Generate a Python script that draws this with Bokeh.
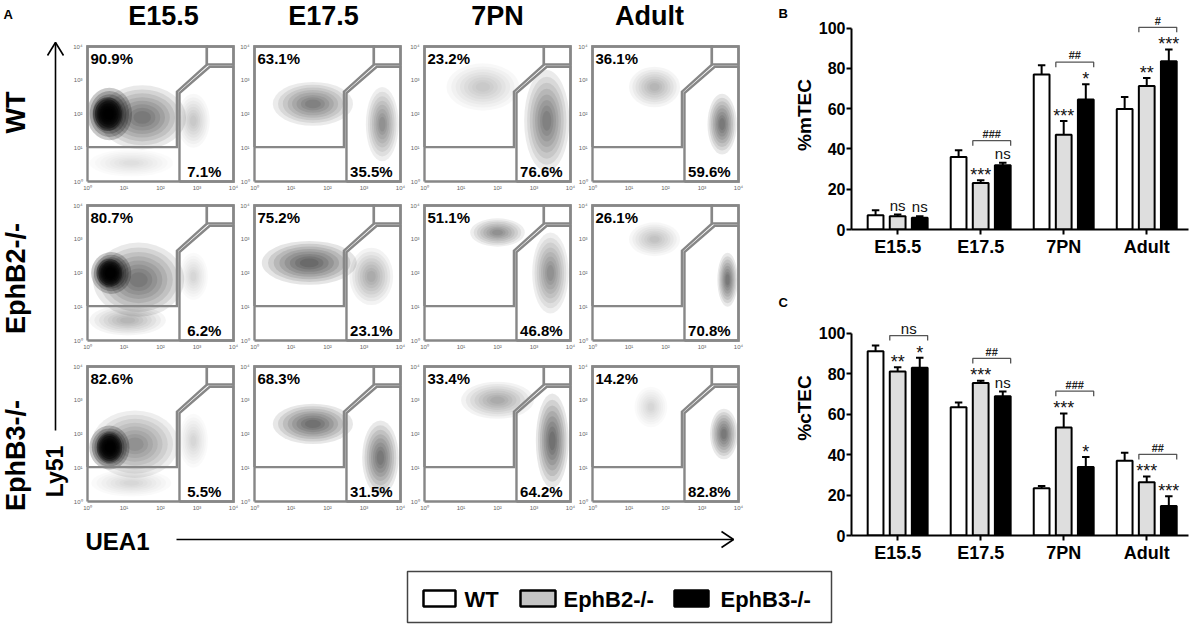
import math
from bokeh.plotting import figure
from bokeh.layouts import row, column
from bokeh.models import Range1d, FixedTicker
from bokeh.embed import file_html
from bokeh.resources import INLINE
from bokeh.core.properties import value

FONT = "Liberation Sans"

# ------------------------------------------------------------------ data
stages = ["E15.5", "E17.5", "7PN", "Adult"]
genotypes = ["WT", "EphB2-/-", "EphB3-/-"]

# panel A: gate percentages (rows = genotypes, cols = stages)
ly51_pct = [[90.9, 63.1, 23.2, 36.1],
            [80.7, 75.2, 51.1, 26.1],
            [82.6, 68.3, 33.4, 14.2]]
uea1_pct = [[7.1, 35.5, 76.6, 59.6],
            [6.2, 23.1, 46.8, 70.8],
            [5.5, 31.5, 64.2, 82.8]]
decades = [0, 1, 2, 3, 4]
decade_labels = ["10\u2070", "10\u00b9", "10\u00b2", "10\u00b3", "10\u2074"]

# panel A: event clouds
# (centre in log10 UEA1 / log10 Ly51, half-spread in decades, relative density)
cloud_row = [0] * 11 + [1] * 11 + [2] * 11
cloud_col = [0, 0, 0, 0, 1, 1, 2, 2, 3, 3, 0,
             0, 0, 0, 0, 1, 1, 2, 2, 3, 3, 0,
             0, 0, 0, 0, 1, 1, 2, 2, 3, 3, 0]
cloud_x = [0.6, 0.55, 1.5, 2.9, 1.6, 3.5, 1.6, 3.35, 1.7, 3.55, 1.2,
           0.65, 0.6, 1.4, 2.9, 1.5, 3.2, 2.0, 3.45, 1.7, 3.7, 1.1,
           0.6, 0.6, 1.3, 2.9, 1.6, 3.45, 2.0, 3.5, 1.6, 3.6, 1.2]
cloud_y = [2.0, 2.0, 1.9, 1.8, 2.3, 1.7, 2.8, 1.8, 2.8, 1.7, 0.55,
           2.0, 2.0, 1.8, 1.9, 2.3, 1.9, 3.2, 2.0, 3.0, 1.8, 0.6,
           1.6, 1.6, 1.7, 1.8, 2.3, 1.3, 3.0, 1.8, 2.8, 2.0, 0.55]
cloud_rx = [0.62, 0.4, 1.2, 0.45, 1.1, 0.45, 1.0, 0.62, 0.7, 0.4, 1.15,
            0.55, 0.35, 1.25, 0.4, 1.3, 0.6, 0.75, 0.5, 0.7, 0.28, 1.05,
            0.55, 0.35, 1.2, 0.4, 1.1, 0.5, 1.0, 0.45, 0.45, 0.38, 1.1]
cloud_ry = [0.78, 0.5, 0.95, 0.8, 0.65, 1.1, 0.7, 1.5, 0.6, 0.9, 0.4,
            0.62, 0.42, 1.1, 0.7, 0.65, 0.85, 0.42, 1.2, 0.5, 0.8, 0.45,
            0.65, 0.45, 1.0, 0.8, 0.6, 1.1, 0.55, 1.4, 0.6, 0.75, 0.4]
cloud_density = [2.5, 4.0, 1.0, 0.3, 0.9, 0.8, 0.3, 0.9, 0.45, 1.0, 0.2,
                 2.5, 4.0, 1.0, 0.25, 1.2, 0.55, 0.8, 0.8, 0.35, 1.0, 0.45,
                 2.5, 4.0, 0.8, 0.25, 1.1, 1.0, 0.55, 1.1, 0.25, 1.0, 0.25]

# panels B / C: mean and SEM (%)
mtec_wt = [7.1, 36.0, 77.0, 59.8]
mtec_wt_err = [2.5, 3.3, 4.5, 6.0]
mtec_b2 = [6.6, 23.1, 47.1, 71.2]
mtec_b2_err = [0.8, 1.4, 6.8, 4.0]
mtec_b3 = [5.8, 31.9, 64.6, 83.5]
mtec_b3_err = [0.8, 1.2, 7.5, 5.9]
mtec_sig_b2 = ["ns", "***", "***", "**"]
mtec_sig_b3 = ["ns", "ns", "*", "***"]
mtec_hash = ["", "###", "##", "#"]

ctec_wt = [91.1, 63.4, 23.3, 36.9]
ctec_wt_err = [2.8, 2.3, 1.2, 4.0]
ctec_b2 = [81.0, 75.4, 53.4, 26.3]
ctec_b2_err = [2.1, 1.1, 6.9, 2.8]
ctec_b3 = [82.9, 68.8, 33.8, 14.6]
ctec_b3_err = [4.9, 2.3, 5.0, 4.8]
ctec_sig_b2 = ["**", "***", "***", "***"]
ctec_sig_b3 = ["*", "ns", "*", "***"]
ctec_hash = ["ns", "##", "###", "##"]

y_ticks = [0, 20, 40, 60, 80, 100]

# ------------------------------------------------------------------ panel A
A_W, A_H = 790, 565


def Y(ry):
    return A_H - ry


pa = figure(width=A_W, height=A_H, x_range=Range1d(0, A_W), y_range=Range1d(0, A_H),
            output_backend="svg", toolbar_location=None,
            x_axis_location=None, y_axis_location=None,
            min_border=0)
pa.grid.visible = False
pa.outline_line_color = None

COL_L = [87, 254, 424, 592]
ROW_T = [46, 205, 366]
PW, PH = 146, 135


def gx(c, v):
    return COL_L[c] + v / 4 * PW


def gy(r, v):
    return Y(ROW_T[r] + (4 - v) / 4 * PH)


# clouds (stacked translucent ellipses give a density falloff)
for scale in [1.0, 0.87, 0.75, 0.63, 0.52, 0.41, 0.3, 0.2]:
    ex, ey, ew, eh, ea = [], [], [], [], []
    for r, c, cx, cy, rx, ry, d in zip(cloud_row, cloud_col, cloud_x, cloud_y,
                                        cloud_rx, cloud_ry, cloud_density):
        ex.append(gx(c, cx))
        ey.append(gy(r, cy))
        ew.append(2 * rx * scale * PW / 4)
        eh.append(2 * ry * scale * PH / 4)
        ea.append(min(0.45, d * 0.085))
    pa.ellipse(x=ex, y=ey, width=ew, height=eh, fill_color="black",
               fill_alpha=ea, line_color=None)

gate_ly51 = [(0, 1.02), (2.45, 1.02), (2.45, 2.66), (3.27, 3.46), (3.27, 4), (0, 4)]
gate_uea1 = [(2.52, 0), (4, 0), (4, 3.40), (3.35, 3.40), (2.52, 2.62)]
gate_box = [(3.27, 3.47), (4, 3.47), (4, 4), (3.27, 4)]
frame_box = [(0, 0), (4, 0), (4, 4), (0, 4)]

gxs, gys = [], []
for r in range(3):
    for c in range(4):
        for poly in (frame_box, gate_ly51, gate_uea1, gate_box):
            pts = poly + [poly[0]]
            gxs.append([gx(c, a) for a, b in pts])
            gys.append([gy(r, b) for a, b in pts])
pa.multi_line(xs=gxs, ys=gys, line_color="#878787", line_width=2.4, line_join="miter")

# tick labels of the dot plots
tx, ty, tt = [], [], []
lx, ly, lt = [], [], []
for r in range(3):
    for c in range(4):
        for k, lab in zip(decades, decade_labels):
            tx.append(gx(c, k)); ty.append(Y(ROW_T[r] + PH + 6)); tt.append(lab)
            lx.append(COL_L[c] - 5); ly.append(gy(r, k)); lt.append(lab)
pa.text(x=tx, y=ty, text=tt, text_font=value(FONT), text_font_size="6px",
        text_color="#666666", text_align="center", text_baseline="middle")
pa.text(x=lx, y=ly, text=lt, text_font=value(FONT), text_font_size="6px",
        text_color="#666666", text_align="right", text_baseline="middle")

# percentages
ux, uy, ut, bx, by, bt = [], [], [], [], [], []
for r in range(3):
    for c in range(4):
        ux.append(COL_L[c] + 3); uy.append(Y(ROW_T[r] + 12)); ut.append(f"{ly51_pct[r][c]}%")
        bx.append(gx(c, 3.2)); by.append(Y(ROW_T[r] + PH - 10)); bt.append(f"{uea1_pct[r][c]}%")
pa.text(x=ux, y=uy, text=ut, text_font=value(FONT), text_font_size="15px",
        text_font_style="bold", text_align="left", text_baseline="middle")
pa.text(x=bx, y=by, text=bt, text_font=value(FONT), text_font_size="15px",
        text_font_style="bold", text_align="center", text_baseline="middle")

# column titles
title_cx = [163, 323, 497, 649]
pa.text(x=title_cx, y=[Y(15)] * 4, text=stages, text_font=value(FONT),
        text_font_size="27px", text_font_style="bold", text_align="center",
        text_baseline="middle")
# row titles (rotated)
row_cy = [112, 278, 455]
pa.text(x=[15] * 3, y=[Y(v) for v in row_cy], text=genotypes, text_font=value(FONT),
        text_font_size="27px", text_font_style="bold", text_align="center",
        text_baseline="middle", angle=math.pi / 2)

# panel letters (B and C sit at the left of the bar charts)
pa.text(x=[3, 778, 778], y=[Y(14), Y(12.5), Y(302)], text=["A", "B", "C"],
        text_font=value(FONT), text_font_size="13px", text_font_style="bold",
        text_align="left", text_baseline="middle")

# axis arrows
pa.multi_line(xs=[[55, 55], [47, 55, 63], [176, 733], [721, 733, 721]],
              ys=[[Y(42), Y(430)], [Y(55), Y(42), Y(55)], [Y(539), Y(539)],
                  [Y(531), Y(539), Y(547)]],
              line_color="black", line_width=1.6)
pa.text(x=[54], y=[Y(471)], text=["Ly51"], text_font=value(FONT), text_font_size="23px",
        text_font_style="bold", text_align="center", text_baseline="middle",
        angle=math.pi / 2)
pa.text(x=[117], y=[Y(541)], text=["UEA1"], text_font=value(FONT), text_font_size="24px",
        text_font_style="bold", text_align="center", text_baseline="middle")

# ------------------------------------------------------------------ panels B / C
OFFS = [-0.266, 0.0, 0.266]
FILLS = ["white", "#dedede", "black"]
BW = 0.19
X_START, X_END = -0.056, 4.003


def bar_panel(ylabel, wt, wt_e, b2, b2_e, b3, b3_e, sig2, sig3, hashes,
              height, y_end, bottom):
    p = figure(width=402, height=height, x_range=Range1d(X_START, X_END),
               y_range=Range1d(0, y_end), output_backend="svg", toolbar_location=None,
               min_border_left=55, min_border_right=4, min_border_top=0,
               min_border_bottom=bottom)
    p.grid.visible = False
    p.outline_line_color = None
    series = [(wt, wt_e), (b2, b2_e), (b3, b3_e)]
    tops_all = []
    for k, (vals, errs) in enumerate(series):
        xs = [i + 0.5 + OFFS[k] for i in range(len(stages))]
        tops = [v + e for v, e in zip(vals, errs)]
        tops_all.append(tops)
        p.segment(x0=xs, y0=vals, x1=xs, y1=tops, line_color="black", line_width=2)
        p.segment(x0=[x - 0.045 for x in xs], y0=tops, x1=[x + 0.045 for x in xs], y1=tops,
                  line_color="black", line_width=2)
        p.vbar(x=xs, top=vals, bottom=0, width=BW, fill_color=FILLS[k],
               line_color="black", line_width=2)
    # significance vs WT
    sx, sy, st, nx, ny, nt = [], [], [], [], [], []
    for k, sig in ((1, sig2), (2, sig3)):
        for i, s in enumerate(sig):
            x = i + 0.5 + OFFS[k]
            if s == "ns":
                nx.append(x); ny.append(tops_all[k][i] + 4.7); nt.append(s)
            else:
                sx.append(x); sy.append(tops_all[k][i] + 2.6); st.append(s)
    # brackets EphB2 vs EphB3
    bxs, bys, hx, hy, ht = [], [], [], [], []
    for i, h in enumerate(hashes):
        if not h:
            continue
        xl = i + 0.5 + OFFS[1] - BW / 2
        xr = i + 0.5 + OFFS[2] + BW / 2
        yb = max(tops_all[1][i], tops_all[2][i]) + 11
        bxs.append([xl, xl, xr, xr]); bys.append([yb - 2.5, yb, yb, yb - 2.5])
        if h == "ns":
            nx.append((xl + xr) / 2); ny.append(yb + 3.3); nt.append(h)
        else:
            hx.append((xl + xr) / 2); hy.append(yb + 3.3); ht.append(h)
    p.multi_line(xs=bxs, ys=bys, line_color="#555555", line_width=1.3)
    p.text(x=sx, y=sy, text=st, text_font=value(FONT), text_font_size="18px",
           text_align="center", text_baseline="middle", text_color="#111111")
    p.text(x=nx, y=ny, text=nt, text_font=value(FONT), text_font_size="15px",
           text_align="center", text_baseline="middle", text_color="#111111")
    p.text(x=hx, y=hy, text=ht, text_font=value(FONT), text_font_size="11px",
           text_font_style="bold", text_align="center", text_baseline="middle",
           text_color="#222222")

    p.axis.axis_line_width = 2
    p.axis.major_tick_line_width = 2
    p.axis.major_tick_out = 5
    p.axis.major_tick_in = 0
    p.axis.minor_tick_line_color = None
    p.axis.major_label_text_font = FONT
    p.axis.major_label_text_font_style = "bold"
    p.axis.major_label_text_color = "black"
    p.axis.major_label_standoff = 1
    p.xaxis.major_label_standoff = 2
    p.xaxis.major_label_text_font_size = "18px"
    p.yaxis.major_label_text_font_size = "16px"
    p.xaxis.ticker = FixedTicker(ticks=[i + 0.5 for i in range(len(stages))])
    p.xaxis.major_label_overrides = {i + 0.5: s for i, s in enumerate(stages)}
    p.yaxis.ticker = FixedTicker(ticks=y_ticks)
    p.yaxis.bounds = (0, 100)
    p.yaxis.axis_label = ylabel
    p.yaxis.axis_label_text_font = FONT
    p.yaxis.axis_label_text_font_size = "19px"
    p.yaxis.axis_label_text_font_style = "bold"
    p.yaxis.axis_label_text_color = "black"
    p.yaxis.axis_label_standoff = 1
    return p


pb = bar_panel("%mTEC", mtec_wt, mtec_wt_err, mtec_b2, mtec_b2_err, mtec_b3, mtec_b3_err,
               mtec_sig_b2, mtec_sig_b3, mtec_hash, 280, 113.7, 51)
pc = bar_panel("%cTEC", ctec_wt, ctec_wt_err, ctec_b2, ctec_b2_err, ctec_b3, ctec_b3_err,
               ctec_sig_b2, ctec_sig_b3, ctec_hash, 285, 126.0, 29)

# ------------------------------------------------------------------ legend
L_H = 62
pl = figure(width=1192, height=L_H, x_range=Range1d(0, 1192), y_range=Range1d(0, L_H),
            output_backend="svg", toolbar_location=None, x_axis_location=None,
            y_axis_location=None, min_border=0)
pl.grid.visible = False
pl.outline_line_color = None


def LY(ry):
    return 627 - ry


pl.quad(left=[407], right=[831], top=[LY(571)], bottom=[LY(622)], fill_color=None,
        line_color="#444444", line_width=1.5)
sw_left = [423, 520, 674]
sw_right = [455, 555, 708]
sw_fill = ["white", "#c4c4c4", "black"]
pl.quad(left=sw_left, right=sw_right, top=[LY(590)] * 3, bottom=[LY(606)] * 3,
        fill_color=sw_fill, line_color="black", line_width=2.5)
pl.text(x=[464, 563, 720], y=[LY(599)] * 3, text=genotypes, text_font=value(FONT),
        text_font_size="22px", text_font_style="bold", text_align="left",
        text_baseline="middle")

layout = column(row(pa, column(pb, pc)), pl)
open("out.html", "w").write(file_html(layout, INLINE))
